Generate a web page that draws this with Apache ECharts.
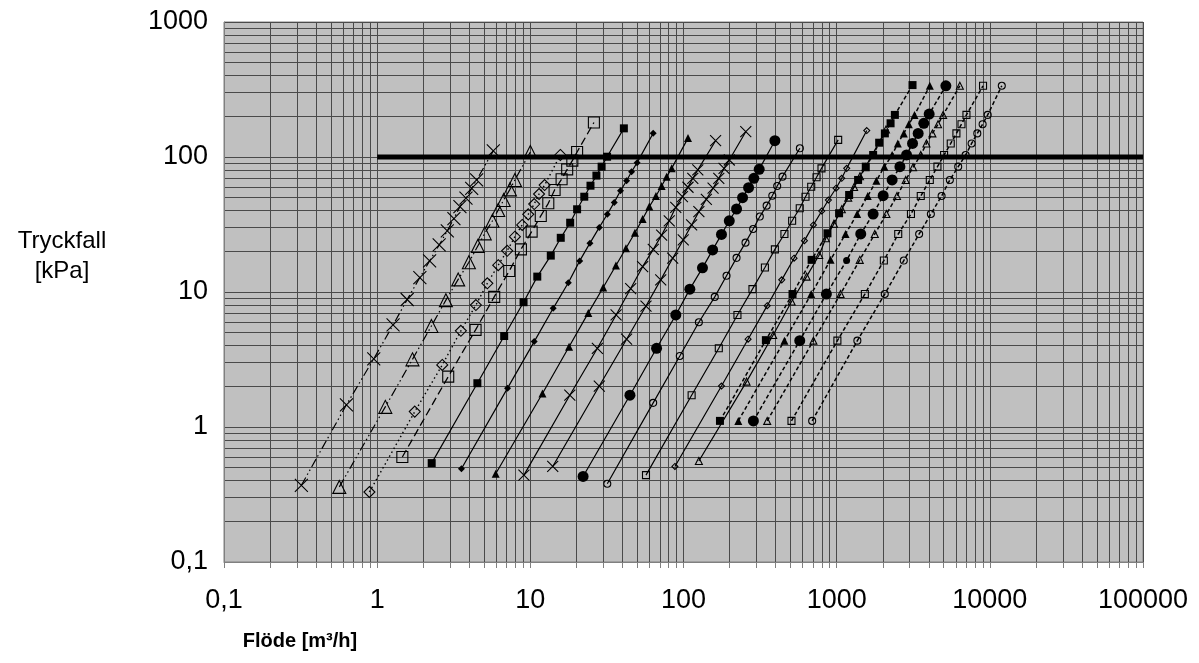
<!DOCTYPE html>
<html><head><meta charset="utf-8">
<script src="https://cdn.jsdelivr.net/npm/echarts@6/dist/echarts.min.js"></script>
<style>html,body{margin:0;padding:0;background:#fff}#c{width:1199px;height:663px}</style>
</head><body><div id="c"></div>
<script>
// ---- tick labels ----
const xTickValues = [0.1, 1, 10, 100, 1000, 10000, 100000];
const xTickLabels = ['0,1', '1', '10', '100', '1000', '10000', '100000'];
const yTickValues = [0.1, 1, 10, 100, 1000];
const yTickLabels = ['0,1', '1', '10', '100', '1000'];

// ---- limit line (100 kPa) ----
const limitFlow = [1, 100000];
const limitDrop = [100, 100];

// ---- series data: flow [m3/h] and pressure drop [kPa] ----
const flow01 = [0.32, 0.63, 0.95, 1.27, 1.57, 1.9, 2.2, 2.54, 2.87, 3.17, 3.47, 3.8, 4.14, 4.46, 5.73];
const drop01 = [0.37, 1.46, 3.2, 5.7, 8.8, 12.8, 17, 22.3, 28.4, 35, 42.9, 49.5, 58.6, 67.6, 111];
const flow02 = [0.566, 1.13, 1.70, 2.26, 2.81, 3.38, 3.97, 4.54, 5.04, 5.66, 6.17, 6.7, 7.36, 7.93, 10.0];
const drop02 = [0.36, 1.41, 3.17, 5.6, 8.7, 12.4, 16.6, 21.9, 27.2, 33.7, 40.5, 48, 57.6, 67.6, 109];
const flow03 = [0.89, 1.76, 2.66, 3.52, 4.41, 5.24, 6.17, 7.06, 7.93, 8.85, 9.69, 10.6, 11.4, 12.4, 15.7];
const drop03 = [0.33, 1.30, 2.88, 5.16, 8.0, 11.6, 15.8, 20.2, 25.7, 31.4, 37.6, 44.8, 53.2, 62, 103.5];
const flow04 = [1.46, 2.91, 4.39, 5.81, 7.28, 8.68, 10.2, 11.7, 13.1, 14.4, 16.0, 17.4, 18.8, 20.2, 26];
const drop04 = [0.60, 2.36, 5.24, 9.2, 14.3, 20.7, 28, 36.6, 45.4, 57, 68.4, 81, 94, 109, 180];
const flow05 = [2.27, 4.51, 6.75, 9.03, 11.1, 13.6, 15.8, 18.2, 20.2, 22.5, 24.7, 27, 29.2, 31.7, 40.8];
const drop05 = [0.54, 2.11, 4.72, 8.4, 13, 18.6, 25.2, 32.6, 41, 50.8, 61.3, 72.8, 84.8, 100.5, 163];
const flow06 = [3.55, 7.1, 10.6, 14.1, 17.7, 21, 24.5, 28.2, 31.8, 35.3, 38.8, 42.5, 45.8, 49.8, 63.4];
const drop06 = [0.49, 1.94, 4.29, 7.57, 11.7, 17, 23, 30.1, 37.7, 46.1, 56.2, 66.7, 77.8, 90.8, 150];
const flow07 = [5.94, 12.0, 17.9, 23.9, 29.9, 36.2, 42.1, 48.2, 54.1, 59.8, 66.1, 72, 77.6, 83.7, 107];
const drop07 = [0.45, 1.77, 3.93, 7.0, 10.8, 15.7, 21.1, 27.5, 34.7, 42.9, 51.4, 61, 71.5, 82.4, 138];
const flow08 = [9.08, 18.1, 27.4, 36.3, 45.2, 54.1, 63.5, 72, 80.7, 89, 98.4, 107, 115, 124, 162];
const drop08 = [0.44, 1.72, 3.83, 6.76, 10.6, 15.4, 20.7, 26.4, 33.7, 42.4, 50.8, 59.7, 69.5, 80.2, 132];
const flow09 = [14.0, 28.2, 42.5, 56.9, 71, 85, 99.6, 113, 126, 141, 156, 170, 184, 199, 255];
const drop09 = [0.51, 2.01, 4.47, 7.87, 12.3, 17.8, 24.3, 31.4, 39.4, 48.6, 58.7, 69.5, 82.4, 95, 154];
const flow10 = [22.1, 44.7, 66.7, 89.1, 110, 133, 155, 177, 199, 222, 243, 266, 288, 312, 395];
const drop10 = [0.43, 1.72, 3.83, 6.76, 10.5, 15.1, 20.5, 26.7, 33.7, 41.2, 50, 59.3, 69.5, 81, 132];
const flow11 = [31.8, 63.4, 94.6, 126, 160, 191, 222, 254, 285, 315, 349, 380, 409, 443, 575];
const drop11 = [0.38, 1.51, 3.36, 5.97, 9.2, 13.2, 17.9, 23.2, 29.3, 36.2, 43.6, 51.7, 61, 71.5, 116];
const flow12 = [56.9, 113, 170, 225, 282, 340, 395, 456, 512, 574, 626, 682, 739, 796, 1023];
const drop12 = [0.44, 1.72, 3.83, 6.76, 10.5, 15.2, 20.7, 26.9, 33.7, 41.7, 50.8, 60.2, 70.8, 82.4, 134];
const flow13 = [87.9, 177, 264, 352, 438, 527, 616, 705, 799, 883, 991, 1079, 1163, 1572];
const drop13 = [0.51, 2.01, 4.47, 7.92, 12.3, 17.8, 24, 31.4, 39.8, 48, 58.7, 69.5, 82.4, 157];
const flow14 = [126, 258, 385, 508, 636, 769, 850, 960, 1080, 1190, 1300, 1420, 1540, 2100];
const drop14 = [0.56, 2.17, 4.8, 8.5, 13, 18.8, 25, 32, 41, 50, 60, 72, 84, 160];
const flow15 = [173, 345, 515, 686, 871, 1037, 1206, 1380, 1549, 1730, 1894, 2064, 2249, 2399, 3128];
const drop15 = [1.11, 4.4, 9.66, 17.3, 27.2, 38.3, 52.3, 67.6, 84.8, 103.5, 127.6, 149.6, 177.7, 205, 341];
const flow16 = [228, 456, 682, 912, 1143, 1361, 1596, 1817, 2049, 2302, 2508, 2743, 2958, 3223, 4056];
const drop16 = [1.11, 4.36, 9.66, 17.3, 26.9, 37.8, 51.4, 66.7, 84.8, 103.5, 126, 149.6, 175, 205, 337];
const flow17 = [286, 574, 857, 1161, 1436, 1730, 2012, 2302, 2588, 2860, 3128, 3404, 3705, 4017, 5164];
const drop17 = [1.11, 4.36, 9.66, 17.1, 26.9, 37.8, 51.7, 67.6, 84.8, 103.5, 126, 149.6, 177.7, 208, 337];
const flow18 = [352, 705, 1060, 1415, 1774, 2112, 2477, 2823, 3152, 3540, 3855, 4217, 4591, 4955, 6371];
const drop18 = [1.11, 4.36, 9.66, 17.3, 26.9, 37.8, 51.4, 67.6, 83.9, 103.5, 126, 149.6, 175, 205, 337];
const flow19 = [507, 1011, 1528, 2033, 2523, 3055, 3540, 4056, 4550, 5027, 5556, 6051, 6531, 7036, 9029];
const drop19 = [1.11, 4.36, 9.66, 17.1, 26.9, 37.8, 51.4, 67.6, 84.8, 103.5, 126, 149.6, 175, 205, 337];
const flow20 = [692, 1365, 2061, 2743, 3455, 4121, 4842, 5483, 6216, 6950, 7603, 8282, 8974, 9682, 11970];
const drop20 = [1.11, 4.36, 9.66, 17.1, 26.9, 37.8, 51.4, 67.6, 84.8, 103.5, 126, 149.6, 175, 205, 337];

// ---- styles ----
const CROSS = 'path://M0,0L10,10M10,0L0,10';
const DASHDOTDOT = [9, 3, 1.5, 3, 1.5, 3];
const DOTTED = [1.5, 3];
const DASHED = [8, 4];
const SHORTDASH = [4, 2.5];

const defs = [
  [flow01, drop01, CROSS, 13, false, DASHDOTDOT, 1.2],
  [flow02, drop02, 'triangle', 13, false, DASHDOTDOT, 1.2],
  [flow03, drop03, 'diamond', 11, false, DOTTED, 1.4],
  [flow04, drop04, 'rect', 11, false, DASHED, 1.3],
  [flow05, drop05, 'rect', 8, true, 'solid', 1.2],
  [flow06, drop06, 'diamond', 7, true, 'solid', 1.2],
  [flow07, drop07, 'triangle', 8, true, 'solid', 1.2],
  [flow08, drop08, CROSS, 11, false, 'solid', 1.2],
  [flow09, drop09, CROSS, 11, false, 'solid', 1.2],
  [flow10, drop10, 'circle', 11, true, 'solid', 1.2],
  [flow11, drop11, 'circle', 7, false, 'solid', 1.2],
  [flow12, drop12, 'rect', 7, false, 'solid', 1.2],
  [flow13, drop13, 'diamond', 6, false, 'solid', 1.2],
  [flow14, drop14, 'triangle', 7, false, 'solid', 1.2],
  [flow15, drop15, 'rect', 8, true, SHORTDASH, 1.5],
  [flow16, drop16, 'triangle', 8, true, SHORTDASH, 1.5],
  [flow17, drop17, 'circle', 11, true, SHORTDASH, 1.5],
  [flow18, drop18, 'triangle', 7, false, SHORTDASH, 1.5],
  [flow19, drop19, 'rect', 7, false, SHORTDASH, 1.5],
  [flow20, drop20, 'circle', 7, false, SHORTDASH, 1.5]
];

function minorValues(lo, hi) {
  const out = [];
  for (let e = lo; e < hi; e++) {
    for (let k = 1; k <= 9; k++) out.push(parseFloat((k * Math.pow(10, e)).toPrecision(3)));
  }
  out.push(Math.pow(10, hi));
  return out;
}
const xGridValues = minorValues(-1, 5);
const yGridValues = minorValues(-1, 3);

function labelFor(values, labels) {
  return function (v) {
    for (let i = 0; i < values.length; i++) {
      if (Math.abs(Math.log10(v) - Math.log10(values[i])) < 1e-6) return labels[i];
    }
    return '';
  };
}

const series = defs.map(function (d, idx) {
  const data = d[0].map(function (x, i) { return [x, d[1][i]]; });
  return {
    type: 'line',
    data: data,
    symbol: d[2],
    symbolSize: (idx === 16) ? function (v, p) { return p.dataIndex === 3 ? 7 : 11; } : d[3],
    showAllSymbol: true,
    silent: true,
    animation: false,
    lineStyle: { color: '#000', width: d[6], type: d[5] },
    itemStyle: {
      color: d[4] ? '#000' : 'rgba(0,0,0,0)',
      borderColor: '#000',
      borderWidth: d[4] ? 0 : 1.1
    },
    emphasis: { disabled: true },
    z: 3
  };
});

series.push({
  type: 'line',
  data: limitFlow.map(function (x, i) { return [x, limitDrop[i]]; }),
  symbol: 'none',
  silent: true,
  animation: false,
  lineStyle: { color: '#000', width: 5 },
  emphasis: { disabled: true },
  z: 4
});

const chart = echarts.init(document.getElementById('c'));
chart.setOption({
  animation: false,
  backgroundColor: '#fff',
  grid: {
    left: 224, right: 56, top: 22, bottom: 101,
    show: true, backgroundColor: '#c0c0c0', borderColor: '#808080', borderWidth: 1
  },
  xAxis: {
    type: 'log', logBase: 10, min: 0.1, max: 100000,
    axisLine: { show: true, lineStyle: { color: '#808080', width: 1 } },
    axisTick: { show: true, length: 6, lineStyle: { color: '#808080' }, customValues: xGridValues },
    axisLabel: {
      customValues: xTickValues, formatter: labelFor(xTickValues, xTickLabels),
      fontSize: 27, fontFamily: 'Liberation Sans, Arial, sans-serif', color: '#000', margin: 25
    },
    splitLine: { show: true, lineStyle: { color: '#4a4a4a', width: 1 } },
    minorTick: { show: false }, minorSplitLine: { show: false }
  },
  yAxis: {
    type: 'log', logBase: 10, min: 0.1, max: 1000,
    axisLine: { show: true, lineStyle: { color: '#808080', width: 1 } },
    axisTick: { show: false, customValues: yGridValues },
    axisLabel: {
      customValues: yTickValues, formatter: labelFor(yTickValues, yTickLabels),
      fontSize: 27, fontFamily: 'Liberation Sans, Arial, sans-serif', color: '#000', margin: 16
    },
    splitLine: { show: true, lineStyle: { color: '#4a4a4a', width: 1 } }
  },
  graphic: [
    { type: 'text', x: 62, y: 256, silent: true,
      style: { text: 'Tryckfall\n[kPa]', align: 'center', verticalAlign: 'middle',
               fontSize: 24, lineHeight: 30, fontFamily: 'Liberation Sans, Arial, sans-serif', fill: '#000' } },
    { type: 'text', x: 300, y: 641, silent: true,
      style: { text: 'Flöde [m³/h]', align: 'center', verticalAlign: 'middle',
               fontSize: 20, fontWeight: 'bold', fontFamily: 'Liberation Sans, Arial, sans-serif', fill: '#000' } }
  ],
  series: series
});
</script></body></html>
